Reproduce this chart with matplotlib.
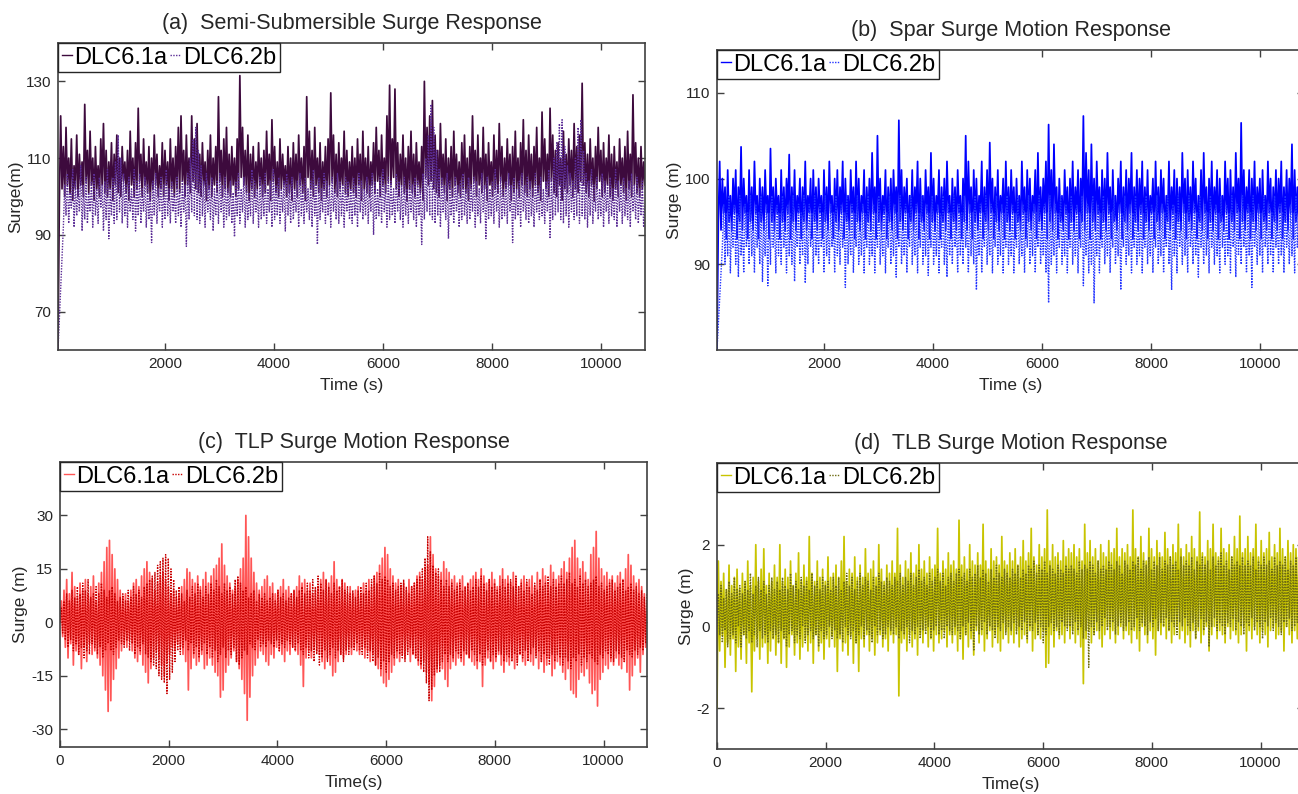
from __future__ import annotations

import matplotlib

matplotlib.use("Agg")

import matplotlib.pyplot as plt
import numpy as np

plt.rcParams["font.family"] = ["Liberation Sans", "DejaVu Sans"]
plt.rcParams["axes.unicode_minus"] = False

T_END = 10800.0
SERIES_NAMES = ["DLC6.1a", "DLC6.2b"]

# Semi-submersible surge (m), equally spaced samples over the run
semi_61a = [
    60, 98, 121, 102, 113, 100, 118, 103, 110, 101, 115, 99, 108, 102, 116, 100, 111, 103, 109, 100, 124, 104, 112, 101, 117, 103, 110, 99, 113, 102, 108, 100, 115, 103, 119, 101, 112, 100, 109, 102, 114, 99, 111, 103,
    116, 101, 110, 100, 113, 104, 109, 101, 112, 99, 117, 103, 110, 100, 114, 102, 123, 104, 111, 100, 115, 103, 109, 101, 113, 99, 110, 102, 116, 103, 111, 100, 108, 102, 114, 100, 112, 103, 109, 99, 115, 102, 110, 100,
    113, 102, 118, 101, 121, 104, 112, 100, 116, 103, 110, 101, 121, 104, 115, 102, 119, 101, 111, 100, 114, 103, 109, 99, 112, 102, 116, 100, 110, 103, 113, 101, 126, 104, 112, 100, 115, 102, 118, 101, 111, 100, 113, 103,
    110, 100, 115, 102, 131.5, 105, 118, 103, 112, 101, 116, 99, 111, 102, 113, 100, 109, 102, 114, 103, 110, 100, 112, 101, 117, 103, 111, 99, 120, 104, 113, 101, 109, 100, 115, 102, 111, 103, 108, 100, 113, 101, 110, 99,
    114, 102, 111, 100, 116, 103, 110, 101, 113, 99, 126, 105, 117, 102, 112, 100, 118, 103, 110, 101, 114, 99, 109, 102, 113, 100, 115, 103, 127, 104, 116, 101, 111, 100, 114, 102, 110, 103, 117, 101, 112, 100, 109, 102,
    113, 101, 110, 100, 115, 103, 111, 99, 117, 102, 110, 101, 113, 100, 109, 103, 114, 101, 118, 104, 112, 100, 116, 103, 110, 101, 121, 104, 129, 103, 115, 105, 128, 102, 114, 100, 111, 103, 116, 101, 110, 99, 113, 102,
    117, 101, 111, 100, 114, 103, 109, 101, 113, 99, 130, 105, 118, 103, 121, 104, 125, 102, 116, 101, 112, 100, 119, 103, 111, 101, 115, 99, 110, 102, 113, 100, 117, 103, 111, 101, 109, 100, 114, 102, 116, 101, 110, 99,
    113, 102, 121, 104, 112, 100, 116, 103, 110, 101, 118, 102, 111, 99, 114, 103, 109, 100, 116, 102, 112, 101, 119, 104, 113, 100, 110, 102, 115, 103, 111, 99, 113, 101, 117, 102, 110, 100, 114, 103, 120, 101, 112, 100,
    116, 102, 111, 100, 113, 103, 118, 101, 110, 99, 122, 104, 115, 102, 111, 100, 123, 104, 116, 101, 112, 100, 114, 103, 110, 99, 117, 102, 111, 101, 115, 103, 112, 100, 119, 102, 113, 101, 116, 104, 129.5, 103, 114, 101,
    111, 100, 115, 103, 110, 99, 113, 102, 118, 104, 112, 100, 114, 101, 110, 103, 116, 100, 111, 99, 113, 102, 109, 100, 115, 103, 110, 101, 113, 99, 117, 102, 111, 100, 126.5, 103, 114, 101, 110, 100, 113, 102, 109, 103,
]
semi_62b = [
    60, 68, 76, 84, 92, 103, 95, 106, 93, 101, 97, 107, 92, 104, 95, 102, 96, 108, 91, 103, 94, 105, 93, 101, 96, 104, 92, 106, 95, 102, 93, 105, 97, 103, 91, 104, 94, 107, 89, 102, 95, 105, 93, 109,
    94, 116, 96, 110, 93, 106, 95, 103, 92, 105, 96, 102, 94, 107, 91, 104, 95, 106, 93, 102, 96, 105, 92, 103, 94, 101, 88, 104, 95, 106, 93, 102, 96, 105, 92, 103, 94, 107, 95, 102, 93, 104, 96, 101,
    93, 105, 95, 102, 92, 104, 96, 103, 87, 106, 94, 110, 96, 115, 95, 118, 94, 112, 93, 108, 95, 104, 92, 106, 96, 103, 94, 105, 91, 102, 95, 104, 93, 106, 96, 103, 92, 105, 94, 102, 95, 104, 93, 101,
    89.5, 104, 95, 106, 93, 102, 96, 105, 92, 103, 94, 101, 95, 107, 93, 104, 96, 102, 92, 105, 94, 103, 95, 106, 93, 102, 96, 104, 92, 107, 94, 103, 95, 105, 93, 102, 96, 104, 91, 106, 95, 103, 93, 105,
    94, 102, 96, 104, 92, 106, 95, 103, 93, 105, 96, 102, 94, 104, 92, 107, 95, 103, 87.5, 105, 94, 102, 96, 106, 93, 104, 95, 103, 92, 105, 96, 102, 94, 106, 93, 104, 95, 103, 92, 105, 96, 104, 94, 102,
    93, 105, 95, 103, 92, 106, 96, 104, 94, 102, 95, 105, 93, 103, 96, 106, 90, 104, 94, 102, 95, 105, 93, 107, 96, 103, 92, 105, 94, 104, 95, 102, 93, 106, 96, 104, 94, 103, 92, 105, 95, 102, 93, 104,
    96, 103, 94, 105, 92, 104, 95, 102, 87.5, 106, 94, 110, 96, 116, 95, 124, 94, 118, 93, 112, 95, 107, 92, 105, 96, 103, 94, 106, 89, 104, 95, 102, 93, 105, 96, 103, 92, 104, 94, 106, 95, 102, 93, 105,
    94, 103, 96, 105, 92, 104, 95, 102, 93, 106, 96, 103, 89, 105, 94, 102, 95, 104, 93, 107, 96, 103, 92, 105, 94, 102, 95, 104, 93, 106, 96, 103, 88, 105, 94, 102, 95, 104, 92, 106, 96, 103, 94, 105,
    93, 104, 95, 102, 92, 106, 96, 103, 94, 105, 95, 102, 93, 104, 96, 107, 89, 105, 94, 110, 95, 114, 96, 119, 94, 120, 93, 113, 95, 108, 92, 106, 96, 104, 94, 110, 95, 118, 93, 120, 95, 112, 94, 106,
    92, 104, 95, 107, 93, 103, 96, 105, 94, 102, 95, 106, 92, 104, 96, 103, 93, 105, 95, 102, 94, 107, 92, 104, 96, 103, 93, 105, 95, 102, 94, 104, 92, 106, 96, 103, 94, 105, 93, 102, 95, 104, 92, 98,
]

# Spar surge (m)
spar_61a = [
    80, 95, 102, 94, 100, 96, 99, 93, 101, 95, 98, 94, 100, 96, 101, 93, 99, 95, 103.7, 94, 100, 96, 98, 93, 101, 95, 99, 94, 102, 96, 98, 93, 100, 95, 99, 94, 101, 96, 98, 93, 103.5, 95, 99, 94,
    100, 96, 98, 93, 101, 95, 99, 94, 100, 96, 102.8, 93, 99, 95, 101, 94, 98, 96, 100, 93, 99, 95, 102, 94, 98, 96, 100, 93, 101, 95, 99, 94, 100, 96, 98, 93, 101, 95, 99, 94, 102, 96, 98, 93,
    100, 95, 101, 94, 99, 96, 102, 93, 100, 95, 98, 94, 101, 96, 99, 93, 102, 95, 100, 94, 98, 96, 101, 93, 99, 95, 100, 94, 103, 96, 99, 93, 105, 95, 100, 94, 98, 96, 101, 93, 99, 95, 100, 94,
    101, 96, 99, 93, 106.8, 95, 101, 94, 99, 96, 100, 93, 98, 95, 101, 94, 99, 96, 102, 93, 100, 95, 98, 94, 101, 96, 99, 93, 103, 95, 100, 94, 98, 96, 101, 93, 99, 95, 100, 94, 102, 96, 98, 93,
    100, 95, 99, 94, 101, 96, 98, 93, 100, 95, 105, 94, 102, 96, 99, 93, 101, 95, 100, 94, 98, 96, 102, 93, 99, 95, 101, 94, 104.2, 96, 100, 93, 99, 95, 101, 94, 98, 96, 100, 93, 102, 95, 99, 94,
    101, 96, 99, 93, 100, 95, 98, 94, 102, 96, 99, 93, 101, 95, 100, 94, 98, 96, 101, 93, 103, 95, 99, 94, 100, 96, 102, 93, 106.3, 95, 101, 94, 104, 96, 99, 93, 100, 95, 98, 94, 101, 96, 99, 93,
    100, 95, 102, 94, 99, 96, 101, 93, 100, 95, 107.3, 94, 103, 96, 101, 93, 104, 95, 100, 94, 102, 96, 99, 93, 101, 95, 100, 94, 103, 96, 99, 93, 101, 95, 98, 94, 100, 96, 102, 93, 99, 95, 101, 94,
    100, 96, 103, 93, 99, 95, 101, 94, 100, 96, 102, 93, 99, 95, 101, 94, 98, 96, 100, 93, 102, 95, 99, 94, 101, 96, 100, 93, 98, 95, 102, 94, 99, 96, 101, 93, 100, 95, 99, 94, 103, 96, 100, 93,
    101, 95, 99, 94, 102, 96, 100, 93, 98, 95, 101, 94, 103, 96, 99, 93, 100, 95, 102, 94, 99, 96, 101, 93, 100, 95, 98, 94, 102, 96, 100, 93, 101, 95, 99, 94, 103, 96, 100, 93, 106.5, 95, 101, 94,
    99, 96, 101, 93, 100, 95, 102, 94, 99, 96, 100, 93, 101, 95, 98, 94, 102, 96, 100, 93, 99, 95, 101, 94, 100, 96, 102, 93, 99, 95, 101, 94, 100, 96, 104, 93, 101, 95, 99, 94, 100, 96, 102, 95,
]
spar_62b = [
    80, 83, 86, 89, 92, 97, 90, 96, 91, 98, 89, 95, 92, 97, 90, 96, 88.5, 98, 91, 95, 89, 97, 92, 96, 90, 98, 91, 95, 89, 97, 92, 96, 90, 98, 88, 95, 91, 97, 87.5, 96, 90, 98, 92, 95,
    89, 97, 91, 96, 90, 98, 92, 95, 89, 97, 91, 96, 90, 98, 88, 95, 92, 97, 90, 96, 91, 98, 87.8, 95, 90, 97, 92, 96, 89, 98, 91, 95, 90, 97, 92, 96, 89, 98, 91, 95, 90, 97, 92, 96,
    89, 98, 91, 95, 90, 97, 92, 96, 87.3, 98, 90, 95, 91, 97, 89, 96, 92, 98, 90, 95, 91, 97, 89, 96, 92, 98, 90, 95, 91, 97, 89, 96, 92, 98, 90, 95, 91, 97, 89, 96, 92, 98, 90, 95,
    91, 97, 88.5, 96, 92, 98, 90, 95, 91, 97, 89, 96, 92, 98, 90, 95, 91, 97, 89, 96, 92, 98, 90, 95, 91, 97, 88.7, 96, 92, 98, 90, 95, 91, 97, 89, 96, 92, 98, 90, 95, 88.5, 97, 91, 96,
    90, 98, 92, 95, 89, 97, 91, 96, 90, 98, 92, 95, 89, 97, 91, 96, 90, 98, 87, 95, 91, 97, 89, 96, 92, 98, 90, 95, 91, 97, 89, 96, 92, 98, 90, 95, 91, 97, 89, 96, 92, 98, 90, 95,
    91, 97, 89, 96, 92, 98, 90, 95, 91, 97, 89, 96, 92, 98, 90, 95, 91, 97, 89, 96, 92, 98, 90, 95, 91, 97, 89, 96, 85.5, 98, 90, 95, 91, 97, 89, 96, 92, 98, 90, 95, 91, 97, 89, 96,
    92, 98, 90, 95, 91, 97, 89, 96, 92, 98, 87.5, 95, 91, 97, 89, 96, 90, 98, 85.5, 95, 91, 97, 89, 96, 92, 98, 90, 95, 91, 97, 89, 96, 92, 98, 90, 95, 91, 97, 87, 96, 92, 98, 90, 95,
    91, 97, 89, 96, 92, 98, 90, 95, 91, 97, 89, 96, 92, 98, 90, 95, 91, 97, 89, 96, 92, 98, 90, 95, 91, 97, 89, 96, 92, 98, 90, 95, 87, 97, 91, 96, 89, 98, 92, 95, 90, 97, 91, 96,
    89, 98, 92, 95, 90, 97, 91, 96, 88.5, 98, 92, 95, 90, 97, 91, 96, 89, 98, 92, 95, 90, 97, 91, 96, 89, 98, 92, 95, 90, 97, 91, 96, 89, 98, 92, 95, 88.5, 97, 91, 96, 90, 98, 92, 95,
    89, 97, 91, 96, 87.3, 98, 92, 95, 90, 97, 91, 96, 89, 98, 92, 95, 90, 97, 91, 96, 89, 98, 92, 95, 90, 97, 91, 96, 89, 98, 92, 95, 90, 97, 91, 96, 89, 98, 92, 95, 90, 97, 91, 94,
]

# TLP surge (m)
tlp_61a = [
    0, 6, -4, 9, -7, 12, -10, 8, -6, 14, -12, 10, -8, 7, -9, 11, -13, 9, -7, 12, -11, 8, -6, 10, -9, 13, -8, 6, -10, 11, -12, 14, -15, 17, -19, 21, -25, 23, -22, 19, -16, 15, -13, 12,
    -10, 9, -8, 7, -6, 8, -7, 6, -5, 9, -8, 11, -10, 12, -11, 10, -9, 13, -12, 15, -14, 17, -17, 14, -13, 12, -10, 9, -8, 11, -10, 13, -12, 14, -15, 12, -11, 10, -9, 8, -7, 9, -8, 7,
    -6, 8, -7, 10, -9, 12, -11, 15, -19, 14, -13, 12, -10, 11, -12, 13, -11, 10, -9, 12, -13, 14, -12, 11, -10, 13, -12, 15, -14, 16, -15, 18, -21, 22, -19, 16, -14, 13, -12, 11, -10, 9, -8, 10,
    -11, 12, -13, 15, -16, 18, -20, 30, -27.5, 24, -21, 18, -15, 14, -12, 11, -10, 9, -8, 10, -9, 12, -11, 13, -12, 10, -9, 11, -10, 8, -7, 9, -8, 10, -9, 12, -11, 9, -8, 10, -9, 8, -7, 9,
    -8, 10, -9, 13, -12, 11, -18, 12, -10, 9, -8, 11, -10, 8, -7, 9, -8, 10, -9, 12, -11, 14, -13, 12, -10, 11, -12, 13, -15, 17, -14, 12, -11, 10, -9, 12, -10, 11, -9, 8, -7, 10, -9, 8,
    -7, 9, -8, 10, -9, 8, -7, 11, -10, 9, -8, 12, -11, 10, -9, 13, -12, 14, -13, 16, -15, 18, -17, 21, -18, 19, -16, 15, -14, 13, -12, 11, -10, 12, -11, 10, -9, 11, -10, 9, -8, 12, -11, 10,
    -9, 11, -10, 13, -12, 14, -13, 12, -11, 15, -14, 16, -17, 24, -22, 19, -18, 15, -14, 13, -12, 14, -13, 17, -16, 15, -18, 14, -13, 12, -11, 13, -12, 11, -10, 12, -11, 13, -12, 10, -9, 11, -10, 12,
    -11, 13, -12, 14, -13, 12, -11, 15, -18, 13, -12, 11, -10, 12, -11, 14, -13, 12, -11, 10, -9, 13, -12, 15, -14, 12, -11, 13, -12, 11, -10, 14, -13, 12, -11, 10, -9, 12, -11, 13, -12, 11, -10, 12,
    -11, 13, -12, 10, -9, 14, -13, 12, -11, 15, -14, 13, -12, 11, -10, 16, -15, 14, -13, 12, -11, 13, -12, 15, -14, 17, -16, 14, -13, 18, -19, 21, -20, 23, -21, 18, -16, 15, -14, 17, -15, 14, -13, 12,
    -17, 19, -20, 21, -19, 25.5, -23.5, 18, -16, 15, -14, 13, -12, 14, -13, 12, -11, 13, -12, 11, -10, 13, -12, 14, -13, 12, -11, 15, -14, 19, -19, 16, -15, 13, -12, 11, -10, 12, -14, 10, -9, 8, -7, 6,
]
tlp_62b = [
    0, 4, -3, 6, -5, 8, -7, 6, -5, 9, -8, 7, -6, 10, -9, 8, -7, 11, -10, 9, -8, 12, -9, 7, -6, 8, -7, 10, -9, 8, -7, 11, -10, 9, -8, 7, -6, 9, -8, 10, -9, 8, -7, 6,
    -5, 7, -6, 8, -7, 6, -5, 9, -8, 7, -6, 10, -9, 8, -7, 9, -8, 7, -6, 10, -9, 11, -10, 12, -11, 13, -12, 14, -13, 16, -15, 17, -16, 18, -17, 19, -20, 18, -16, 15, -14, 12, -11, 9,
    -8, 10, -9, 8, -7, 6, -5, 9, -8, 7, -6, 10, -9, 8, -7, 11, -10, 9, -8, 7, -6, 10, -9, 8, -7, 11, -10, 9, -8, 12, -11, 10, -9, 8, -7, 11, -10, 9, -8, 10, -9, 8, -7, 12,
    -11, 13, -12, 11, -10, 9, -8, 10, -9, 7, -6, 8, -7, 9, -8, 6, -5, 8, -7, 7, -6, 8, -7, 6, -5, 7, -6, 8, -7, 6, -5, 9, -8, 7, -6, 8, -7, 6, -5, 7, -6, 8, -7, 9,
    -8, 7, -6, 9, -8, 10, -9, 8, -7, 11, -10, 9, -8, 12, -11, 10, -9, 13, -12, 11, -10, 9, -8, 12, -11, 10, -9, 8, -7, 11, -10, 9, -8, 10, -9, 12, -11, 9, -8, 10, -9, 8, -7, 9,
    -8, 7, -6, 9, -8, 10, -9, 8, -7, 11, -10, 9, -8, 12, -11, 13, -12, 11, -10, 14, -13, 12, -11, 13, -14, 12, -11, 10, -9, 11, -10, 9, -8, 10, -9, 11, -10, 12, -11, 10, -9, 8, -7, 10,
    -9, 11, -10, 12, -11, 13, -12, 15, -14, 18, -17, 24, -22, 20, -19, 16, -15, 14, -13, 15, -14, 12, -11, 10, -9, 12, -11, 10, -9, 11, -10, 9, -8, 10, -9, 11, -10, 9, -8, 10, -9, 11, -10, 9,
    -8, 10, -9, 12, -11, 10, -9, 13, -12, 11, -10, 9, -8, 12, -11, 10, -9, 11, -10, 9, -8, 10, -9, 12, -11, 10, -9, 11, -10, 12, -11, 10, -9, 13, -12, 10, -9, 11, -10, 9, -8, 12, -11, 10,
    -9, 8, -7, 11, -10, 9, -8, 12, -11, 10, -9, 11, -10, 13, -12, 10, -9, 12, -11, 10, -9, 11, -10, 13, -12, 11, -10, 12, -11, 14, -13, 11, -10, 12, -11, 10, -9, 13, -12, 11, -10, 12, -11, 10,
    -9, 11, -10, 12, -11, 13, -12, 10, -9, 11, -10, 9, -8, 10, -9, 11, -10, 12, -11, 9, -8, 10, -9, 11, -10, 12, -11, 9, -8, 10, -9, 11, -10, 9, -8, 10, -9, 8, -7, 9, -8, 7, -6, 8,
]

# TLB surge (m)
tlb_61a = [
    -2.0, 1.6, -0.6, 1.1, -0.2, 1.3, -1.0, 0.9, -0.4, 1.5, -0.7, 1.0, -0.3, 1.2, -1.1, 1.4, -0.5, 0.9, -0.8, 1.3, -0.2, 1.1, -0.9, 1.6, -0.4, 1.0, -1.6, 1.2, -0.6, 2.0, -0.3, 1.1, -0.8, 1.4, -0.5, 1.9, -0.4, 1.0, -0.9, 1.3, -0.6, 1.1, -0.3, 1.5,
    -0.7, 1.2, -0.4, 2.0, -0.9, 1.1, -0.3, 1.4, -1.0, 1.2, -0.5, 1.6, -0.2, 1.0, -0.7, 1.3, -0.4, 1.8, -0.8, 1.1, -0.5, 1.5, -0.3, 1.2, -0.6, 2.2, -0.4, 1.3, -0.9, 1.1, -0.2, 1.6, -0.6, 1.2, -0.4, 1.4, -0.8, 1.1, -0.3, 1.7, -0.5, 1.2, -0.2, 1.3,
    -0.5, 1.5, -1.1, 1.2, -0.3, 1.6, -0.6, 2.2, -0.4, 1.1, -0.7, 1.4, -0.2, 1.3, -0.9, 1.7, -0.4, 1.2, -1.1, 1.5, -0.3, 1.2, -0.5, 1.9, -0.2, 1.3, -0.6, 1.4, -0.3, 1.6, -0.7, 1.2, -0.4, 2.0, -0.2, 1.4, -0.5, 1.1, -0.3, 1.5, -0.6, 1.3, -0.2, 1.6,
    -0.4, 1.3, -0.2, 2.4, -1.7, 1.5, -0.4, 1.2, -0.3, 1.6, -0.6, 1.4, -0.2, 1.8, -0.5, 1.3, -0.3, 1.5, -0.7, 2.0, -0.2, 1.4, -0.4, 1.6, -0.1, 1.3, -0.5, 1.7, -0.3, 1.4, -0.6, 1.5, -0.2, 2.4, -0.4, 1.3, -0.3, 1.6, -0.1, 1.4, -0.5, 1.8, -0.2, 1.5,
    -0.4, 1.6, -0.2, 1.4, -0.6, 2.6, -0.3, 1.5, -0.8, 1.7, -0.2, 1.4, -0.5, 2.0, -0.3, 1.6, -0.7, 1.5, -0.1, 1.8, -0.4, 1.5, -0.2, 2.5, -0.6, 1.6, -0.3, 1.4, -0.1, 1.9, -0.5, 1.6, -0.2, 1.7, -0.4, 1.5, -0.6, 2.2, -0.3, 1.6, -0.1, 1.5, -0.4, 1.8,
    -0.2, 1.6, -0.4, 1.9, -0.1, 1.5, -0.5, 1.7, -0.3, 2.1, -0.2, 1.6, -0.4, 1.8, -0.1, 2.4, -0.6, 1.7, -0.3, 1.5, -0.2, 2.0, -0.3, 1.7, -0.1, 1.9, -1.0, 2.85, -0.9, 1.6, -0.2, 2.0, -0.5, 1.7, -0.1, 1.8, -0.3, 1.6, -0.2, 2.1, -0.4, 1.7, 0.0, 1.9,
    -0.3, 1.8, -0.1, 2.0, -0.4, 1.7, -0.2, 1.9, -0.5, 1.6, -1.4, 2.5, -0.3, 1.8, -0.1, 2.1, -0.4, 1.7, -0.2, 1.9, -0.1, 1.6, -0.3, 2.0, -0.5, 1.8, -0.2, 1.7, 0.0, 2.1, -0.3, 1.8, -0.1, 1.9, -0.4, 2.4, -0.2, 1.7, 0.0, 1.9, -0.3, 1.8, -0.1, 2.0,
    -0.2, 1.7, -0.4, 2.85, -0.1, 1.9, -0.3, 1.7, -0.6, 2.2, 0.0, 1.8, -0.2, 1.6, -0.4, 2.4, -0.1, 1.9, -0.3, 1.7, -0.7, 2.1, -0.1, 1.8, -0.2, 1.7, 0.0, 2.3, -0.3, 1.9, -0.1, 1.7, -0.4, 2.0, -0.2, 1.8, 0.0, 2.5, -0.3, 1.9, -0.1, 1.7, -0.4, 2.0,
    -0.2, 1.8, -0.5, 2.2, -0.1, 1.9, -0.3, 1.7, -0.1, 2.8, -0.4, 1.8, -0.2, 1.7, 0.0, 2.1, -0.6, 1.9, -0.2, 2.5, 0.0, 1.8, -0.3, 1.7, -0.1, 2.4, -0.2, 1.9, -0.4, 1.8, 0.0, 2.0, -0.3, 1.7, -0.1, 2.2, -0.2, 1.9, -0.4, 2.7, -0.2, 1.8, 0.0, 1.9,
    -0.6, 2.2, -0.1, 1.8, -0.3, 1.9, 0.0, 2.5, -0.2, 1.7, -0.4, 2.1, -0.1, 1.8, -0.2, 1.9, -0.5, 2.3, -0.1, 1.7, 0.0, 2.0, -0.3, 1.8, -0.2, 2.4, -0.1, 1.9, -0.6, 1.7, 0.0, 2.1, -0.2, 1.8, -0.4, 2.0, -0.1, 1.9, -0.3, 1.7, -0.7, 2.4, -0.2, 1.9,
]
tlb_62b = [
    0.0, 0.8, -0.2, 1.0, -0.4, 0.7, -0.1, 0.9, -0.5, 1.1, -0.3, 0.8, -0.2, 1.2, -0.4, 0.9, 0.0, 1.0, -0.5, 0.8, -0.2, 1.1, -0.3, 0.9, -0.1, 1.3, -0.4, 0.8, -0.2, 1.0, -0.5, 1.2, -0.1, 0.9, -0.3, 1.1, -0.2, 0.8, -0.4, 1.0, -0.1, 1.2, -0.3, 0.9,
    -0.2, 1.1, -0.4, 0.9, -0.1, 1.2, -0.3, 1.0, -0.5, 0.9, -0.2, 1.3, -0.1, 1.0, -0.4, 1.1, -0.2, 0.9, -0.3, 1.2, 0.0, 1.0, -0.4, 1.1, -0.2, 0.9, -0.1, 1.3, -0.3, 1.0, -0.2, 1.1, -0.5, 0.9, -0.1, 1.2, -0.3, 1.0, -0.2, 1.1, 0.0, 0.9, -0.3, 1.2,
    -0.1, 1.0, -0.3, 1.2, -0.2, 0.9, -0.4, 1.1, 0.0, 1.3, -0.2, 1.0, -0.3, 1.2, -0.1, 0.9, -0.4, 1.1, -0.2, 1.3, 0.0, 1.0, -0.3, 1.2, -0.1, 1.1, -0.2, 0.9, -0.4, 1.2, 0.0, 1.0, -0.2, 1.3, -0.1, 1.1, -0.3, 1.0, -0.2, 1.2, 0.0, 1.1, -0.1, 1.0,
    -0.2, 1.2, 0.0, 1.1, -0.3, 1.3, -0.1, 1.0, -0.2, 1.2, 0.0, 1.1, -0.4, 1.3, -0.1, 1.0, -0.2, 1.2, 0.0, 1.4, -0.3, 1.1, -0.1, 1.2, -0.2, 1.0, 0.0, 1.3, -0.3, 1.1, -0.1, 1.2, 0.0, 1.4, -0.2, 1.1, -0.1, 1.3, -0.3, 1.0, 0.0, 1.2, -0.1, 1.3,
    -0.2, 1.1, 0.0, 1.3, -0.1, 1.4, -0.3, 1.2, 0.0, 1.3, -0.2, 1.1, 0.1, 1.4, -0.1, 1.2, -0.6, 1.3, 0.0, 1.5, -0.2, 1.2, -0.1, 1.4, 0.1, 1.3, -0.2, 1.1, 0.0, 1.4, -0.1, 1.2, -0.3, 1.5, 0.0, 1.3, -0.1, 1.2, 0.1, 1.4, -0.2, 1.3, 0.0, 1.2,
    -0.1, 1.4, 0.1, 1.3, -0.2, 1.5, 0.0, 1.2, -0.1, 1.4, 0.1, 1.3, -0.3, 1.5, 0.0, 1.4, -0.1, 1.6, 0.1, 1.3, -0.2, 1.5, 0.0, 1.4, -0.4, 1.6, -0.2, 1.3, 0.0, 1.5, 0.1, 1.4, -0.1, 1.3, 0.0, 1.5, -0.2, 1.4, 0.1, 1.3, 0.0, 1.5, -0.1, 1.4,
    0.0, 1.5, -0.2, 1.4, 0.1, 1.3, -0.1, 1.6, 0.0, 1.4, -0.3, 1.5, -0.1, 1.4, -1.0, 1.6, 0.0, 1.5, -0.2, 1.3, 0.1, 1.6, -0.1, 1.4, 0.0, 1.5, 0.2, 1.4, -0.1, 1.6, 0.0, 1.5, 0.1, 1.4, -0.2, 1.6, 0.0, 1.5, 0.1, 1.3, -0.1, 1.6, 0.0, 1.5,
    0.1, 1.4, -0.1, 1.6, 0.0, 1.5, 0.2, 1.7, -0.1, 1.4, 0.1, 1.6, 0.0, 1.5, -0.2, 1.7, 0.1, 1.4, 0.0, 1.6, 0.2, 1.5, -0.1, 1.7, 0.1, 1.4, 0.0, 1.6, 0.2, 1.5, -0.1, 1.7, 0.1, 1.5, 0.0, 1.6, -0.2, 1.4, 0.1, 1.7, 0.0, 1.5, 0.2, 1.6,
    0.0, 1.5, -0.1, 1.7, 0.1, 1.4, -0.3, 1.6, 0.0, 1.5, 0.2, 1.7, -0.1, 1.5, 0.1, 1.6, -0.5, 1.4, 0.0, 1.7, 0.2, 1.5, -0.1, 1.6, 0.1, 1.8, 0.0, 1.5, -0.2, 1.6, 0.1, 1.4, 0.0, 1.7, 0.2, 1.5, -0.1, 1.6, 0.1, 1.5, 0.0, 1.7, -0.2, 1.5,
    0.1, 1.6, 0.0, 1.5, 0.2, 1.7, -0.1, 1.4, 0.1, 1.6, 0.0, 1.5, -0.3, 1.7, 0.1, 1.5, 0.0, 1.6, 0.2, 1.4, -0.1, 1.7, 0.1, 1.5, 0.0, 1.6, -0.2, 1.5, 0.1, 1.7, 0.0, 1.4, 0.2, 1.6, -0.1, 1.5, 0.0, 1.7, 0.1, 1.4, -0.3, 1.5, -0.6, -0.8,
]

AXIS_COLOR = "#404040"
TEXT_COLOR = "#262626"


def draw_panel(ax, t_start, y_a, y_b, colors, ylim, yticks, xticks, title, xlabel, ylabel):
    """One surge time history: solid DLC6.1a, dotted DLC6.2b drawn on top."""
    t_a = np.linspace(t_start, T_END, len(y_a))
    t_b = np.linspace(t_start, T_END, len(y_b))
    ax.plot(t_a, y_a, color=colors[0], lw=1.25, ls="-", label=SERIES_NAMES[0])
    ax.plot(t_b, y_b, color=colors[1], lw=1.0, ls=(0, (1, 1)), label=SERIES_NAMES[1])

    ax.set_xlim(t_start, T_END)
    ax.set_ylim(*ylim)
    ax.set_xticks(xticks)
    ax.set_yticks(yticks)
    ax.tick_params(direction="in", top=True, right=True, length=5, width=1.0,
                   color=AXIS_COLOR, labelcolor=TEXT_COLOR, labelsize=11, pad=5)
    for spine in ax.spines.values():
        spine.set_color(AXIS_COLOR)
        spine.set_linewidth(1.2)

    ax.set_title(title, fontsize=15.5, color=TEXT_COLOR, pad=10)
    ax.set_xlabel(xlabel, fontsize=12.5, color=TEXT_COLOR, labelpad=5)
    ax.set_ylabel(ylabel, fontsize=12.5, color=TEXT_COLOR, labelpad=2)

    leg = ax.legend(ncol=2, loc="upper left", bbox_to_anchor=(0, 1), borderaxespad=0,
                    handlelength=0.45, handletextpad=0.1, columnspacing=0.1, borderpad=0.15,
                    fancybox=False, framealpha=1, edgecolor=TEXT_COLOR, fontsize=17)
    leg.get_frame().set_linewidth(1.0)
    for line in leg.get_lines():
        line.set_linewidth(1.0)


fig = plt.figure(figsize=(12.98, 7.94), dpi=100)
W, H = 1298.0, 794.0


def add_axes_px(left, top, right, bottom):
    return fig.add_axes([left / W, 1 - bottom / H, (right - left) / W, (bottom - top) / H])


ax_a = add_axes_px(58, 43, 645, 350)
ax_b = add_axes_px(717, 50, 1304, 350)
ax_c = add_axes_px(60, 462, 647, 747)
ax_d = add_axes_px(717, 463, 1304, 749)

ticks_late = np.arange(2000, 10001, 2000)
ticks_full = np.arange(0, 10001, 2000)

draw_panel(ax_a, 40, semi_61a, semi_62b, ("#3d0a3d", "#5b2d96"), (60, 140), [70, 90, 110, 130], ticks_late,
           "(a)  Semi-Submersible Surge Response", "Time (s)", "Surge(m)")
draw_panel(ax_b, 40, spar_61a, spar_62b, ("#0000ff", "#2233ff"), (80, 115), [90, 100, 110], ticks_late,
           "(b)  Spar Surge Motion Response", "Time (s)", "Surge (m)")
draw_panel(ax_c, 0, tlp_61a, tlp_62b, ("#ff5555", "#c80000"), (-35, 45), [-30, -15, 0, 15, 30], ticks_full,
           "(c)  TLP Surge Motion Response", "Time(s)", "Surge (m)")
draw_panel(ax_d, 0, tlb_61a, tlb_62b, ("#c8c400", "#6e6c12"), (-3, 4), [-2, 0, 2], ticks_full,
           "(d)  TLB Surge Motion Response", "Time(s)", "Surge (m)")

fig.savefig("out.png", dpi=100)
plt.close(fig)
